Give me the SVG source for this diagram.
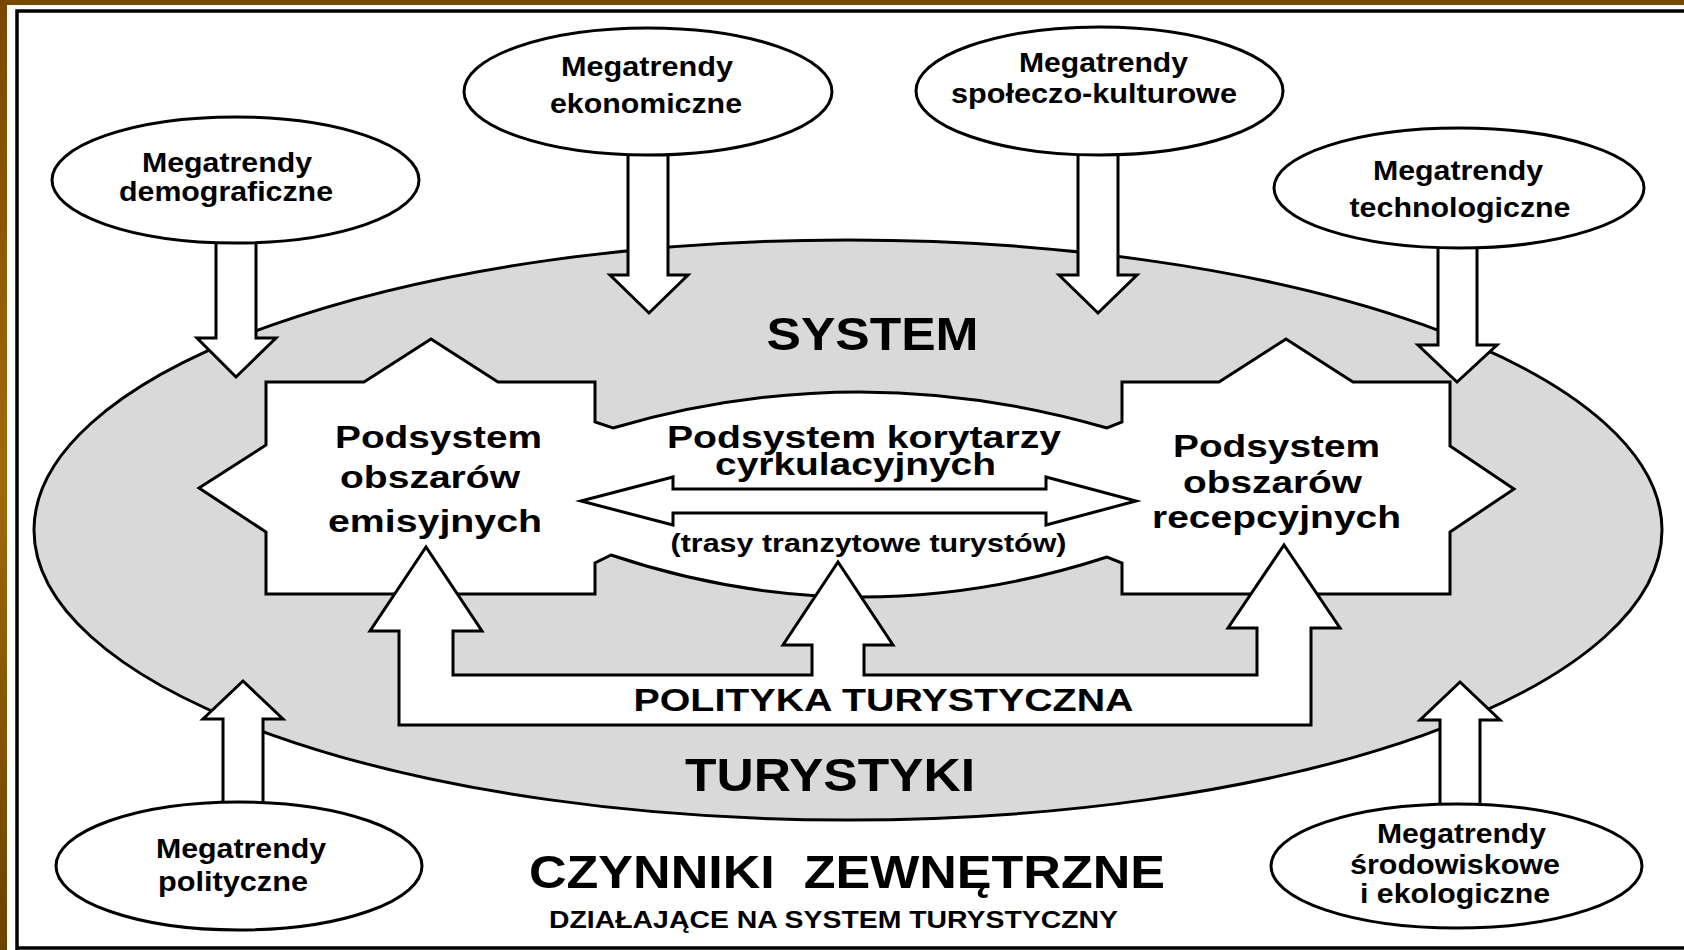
<svg xmlns="http://www.w3.org/2000/svg" width="1684" height="950" viewBox="0 0 1684 950">
<defs>
<linearGradient id="brownV" x1="0" y1="0" x2="0" y2="1">
<stop offset="0" stop-color="#7a4700"/>
<stop offset="0.5" stop-color="#a06a0a"/>
<stop offset="1" stop-color="#6c4200"/>
</linearGradient>
<style>
.ol{stroke:#000;stroke-width:3;stroke-linejoin:miter}
.w{fill:#fff}
.t{font-family:"Liberation Sans",Arial,Helvetica,sans-serif;font-weight:bold;fill:#000}
.mt{font-size:28px}
.ps{font-size:32px}
.big{font-size:46px}
</style>
</defs>
<rect x="0" y="0" width="1684" height="950" fill="#fff"/>
<g id="frame">
<rect x="0" y="0" width="1684" height="5" fill="#7a4700"/>
<rect x="0" y="0" width="7" height="950" fill="url(#brownV)"/>
<path d="M17,950 L17,11 L1690,11 M17,948 L1690,948" fill="none" stroke="#000" stroke-width="3.5"/>
</g>
<g id="system-turystyki">
<ellipse cx="848" cy="530" rx="814" ry="290" fill="#d9d9d9" class="ol"/>
<text class="t big" x="766.5" y="350" textLength="212" lengthAdjust="spacingAndGlyphs">SYSTEM</text>
<text class="t big" x="685" y="791" textLength="290" lengthAdjust="spacingAndGlyphs">TURYSTYKI</text>
</g>
<g id="podsystemy">
<path class="ol w" d="M266,382 L364,382 L431,339 L498,382 L595,382 L595,422 L613,428 Q858,356 1107,428 L1122,422 L1122,382 L1219,382 L1286,339 L1353,382 L1450,382 L1450,446 L1514,489 L1450,532 L1450,594 L1122,594 L1122,563 L1107,557 Q858,638 611,555 L595,563 L595,594 L266,594 L266,532 L199,488 L266,445 Z"/>
</g>
<g id="connectors">
<path id="korytarz-arrow" class="ol w" d="M581,501 L673,477 L673,489 L1046,489 L1046,477 L1136,501 L1046,525 L1046,513 L673,513 L673,525 Z"/>
<path id="polityka-arrow" class="ol w" d="M399,725 L399,631 L370,631 L426,547 L482,631 L453,631 L453,675 L812,675 L812,645 L783,645 L838,562 L893,645 L864,645 L864,675 L1257,675 L1257,628 L1228,628 L1284,545 L1340,628 L1311,628 L1311,725 Z"/>
<path id="arr-demo" class="ol w" d="M216,225 L216,338 L197,338 L236,377 L276,338 L256,338 L256,225 Z"/>
<path id="arr-eko" class="ol w" d="M628,140 L628,275 L610,275 L649,313 L688,275 L668,275 L668,140 Z"/>
<path id="arr-spol" class="ol w" d="M1078,140 L1078,275 L1059,275 L1098,313 L1137,275 L1118,275 L1118,140 Z"/>
<path id="arr-tech" class="ol w" d="M1438,235 L1438,345 L1418,345 L1457,382 L1497,345 L1477,345 L1477,235 Z"/>
<path id="arr-polit" class="ol w" d="M223,815 L223,719 L203,719 L243,681 L283,719 L263,719 L263,815 Z"/>
<path id="arr-srod" class="ol w" d="M1440,815 L1440,720 L1420,720 L1460,682 L1500,720 L1480,720 L1480,815 Z"/>
</g>
<g id="podsystem-emisyjny">
<text class="t ps" x="335" y="448" textLength="207" lengthAdjust="spacingAndGlyphs">Podsystem</text>
<text class="t ps" x="340" y="488" textLength="180" lengthAdjust="spacingAndGlyphs">obszarów</text>
<text class="t ps" x="328" y="532" textLength="214" lengthAdjust="spacingAndGlyphs">emisyjnych</text>
</g>
<g id="podsystem-korytarzy">
<text class="t ps" x="667" y="448" textLength="394" lengthAdjust="spacingAndGlyphs">Podsystem korytarzy</text>
<text class="t ps" x="715" y="475" textLength="281" lengthAdjust="spacingAndGlyphs">cyrkulacyjnych</text>
<text class="t" style="font-size:26px" x="670.5" y="552" textLength="396" lengthAdjust="spacingAndGlyphs">(trasy tranzytowe turystów)</text>
</g>
<g id="podsystem-recepcyjny">
<text class="t ps" x="1173" y="457" textLength="207" lengthAdjust="spacingAndGlyphs">Podsystem</text>
<text class="t ps" x="1183" y="493" textLength="179" lengthAdjust="spacingAndGlyphs">obszarów</text>
<text class="t ps" x="1152" y="528" textLength="249" lengthAdjust="spacingAndGlyphs">recepcyjnych</text>
</g>
<g id="polityka-turystyczna">
<text class="t" style="font-size:32px" x="633.5" y="710.5" textLength="500" lengthAdjust="spacingAndGlyphs">POLITYKA TURYSTYCZNA</text>
</g>
<g id="megatrendy-demograficzne">
<ellipse class="ol w" cx="235.5" cy="180" rx="183.5" ry="63"/>
<text class="t mt" x="142" y="172" textLength="170" lengthAdjust="spacingAndGlyphs">Megatrendy</text>
<text class="t mt" x="119" y="201" textLength="214" lengthAdjust="spacingAndGlyphs">demograficzne</text>
</g>
<g id="megatrendy-ekonomiczne">
<ellipse class="ol w" cx="648" cy="91.5" rx="184" ry="63.5"/>
<text class="t mt" x="561" y="76" textLength="172" lengthAdjust="spacingAndGlyphs">Megatrendy</text>
<text class="t mt" x="550" y="113" textLength="192" lengthAdjust="spacingAndGlyphs">ekonomiczne</text>
</g>
<g id="megatrendy-spoleczo-kulturowe">
<ellipse class="ol w" cx="1099.5" cy="91" rx="183.5" ry="64"/>
<text class="t mt" x="1019" y="72" textLength="169" lengthAdjust="spacingAndGlyphs">Megatrendy</text>
<text class="t mt" x="951" y="103" textLength="286" lengthAdjust="spacingAndGlyphs">społeczo-kulturowe</text>
</g>
<g id="megatrendy-technologiczne">
<ellipse class="ol w" cx="1459" cy="188" rx="185" ry="60"/>
<text class="t mt" x="1373" y="180" textLength="170" lengthAdjust="spacingAndGlyphs">Megatrendy</text>
<text class="t mt" x="1349.5" y="217" textLength="221" lengthAdjust="spacingAndGlyphs">technologiczne</text>
</g>
<g id="megatrendy-polityczne">
<ellipse class="ol w" cx="239" cy="866" rx="183" ry="64"/>
<text class="t mt" x="156" y="858" textLength="170" lengthAdjust="spacingAndGlyphs">Megatrendy</text>
<text class="t mt" x="158" y="891" textLength="150" lengthAdjust="spacingAndGlyphs">polityczne</text>
</g>
<g id="megatrendy-srodowiskowe">
<ellipse class="ol w" cx="1456.5" cy="866" rx="185.5" ry="62"/>
<text class="t mt" x="1377" y="843" textLength="169" lengthAdjust="spacingAndGlyphs">Megatrendy</text>
<text class="t mt" x="1350" y="874" textLength="210" lengthAdjust="spacingAndGlyphs">środowiskowe</text>
<text class="t mt" x="1360" y="903" textLength="190" lengthAdjust="spacingAndGlyphs">i ekologiczne</text>
</g>
<g id="czynniki-zewnetrzne">
<text class="t" style="font-size:47px;white-space:pre" x="529" y="888" textLength="636" lengthAdjust="spacingAndGlyphs">CZYNNIKI  ZEWNĘTRZNE</text>
<text class="t" style="font-size:23px" x="549" y="928" textLength="569" lengthAdjust="spacingAndGlyphs">DZIAŁAJĄCE NA SYSTEM TURYSTYCZNY</text>
</g>
</svg>
